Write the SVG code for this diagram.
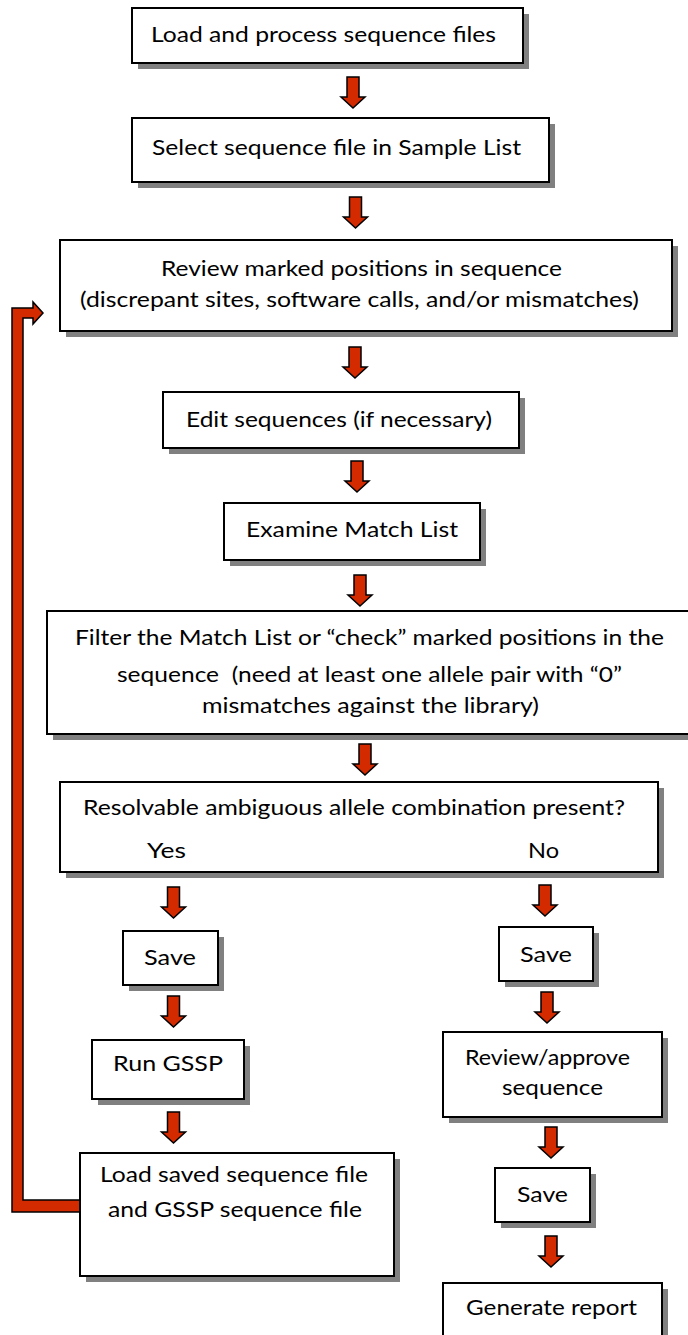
<svg xmlns="http://www.w3.org/2000/svg" xmlns:xlink="http://www.w3.org/1999/xlink" width="688" height="1335" viewBox="0 0 688 1335">
<style>
.sh{fill:#808080}
.bx{fill:#ffffff;stroke:#000000;stroke-width:2}
.t{font-family:Lato,"Open Sans","DejaVu Sans",sans-serif;font-size:22px;fill:#000000;text-anchor:middle}
.ar{fill:#d42a00;stroke:#000000;stroke-width:1.5;stroke-linejoin:miter}
</style>
<defs>
<path id="arr" class="ar" d="M-6,0 H6 V20 H12 L0,31 L-12,20 H-6 Z"/>
</defs>
<rect width="688" height="1335" fill="#ffffff"/>

<g id="connectors">
<use xlink:href="#arr" href="#arr" x="353" y="77"/>
<use xlink:href="#arr" href="#arr" x="355.5" y="197"/>
<use xlink:href="#arr" href="#arr" x="355" y="347"/>
<use xlink:href="#arr" href="#arr" x="357" y="461"/>
<use xlink:href="#arr" href="#arr" x="360" y="575"/>
<use xlink:href="#arr" href="#arr" x="365" y="744"/>
<use xlink:href="#arr" href="#arr" x="173.5" y="887"/>
<use xlink:href="#arr" href="#arr" x="173.5" y="996"/>
<use xlink:href="#arr" href="#arr" x="173.5" y="1112"/>
<use xlink:href="#arr" href="#arr" x="545" y="885"/>
<use xlink:href="#arr" href="#arr" x="547" y="992"/>
<use xlink:href="#arr" href="#arr" x="551" y="1127"/>
<use xlink:href="#arr" href="#arr" x="551" y="1236"/>
<path id="loop" class="ar" d="M12,308 H33 V302 L43,313 L33,324 V318 H23 V1200 H80 V1212 H12 Z"/>
</g>

<g id="n1">
<rect class="sh" x="138" y="14" width="391" height="55"/>
<rect class="bx" x="132" y="8" width="391" height="55"/>
<text class="t" x="323.5" y="42" textLength="345" lengthAdjust="spacingAndGlyphs">Load and process sequence files</text>
</g>

<g id="n2">
<rect class="sh" x="138" y="124" width="417" height="64"/>
<rect class="bx" x="132" y="118" width="417" height="64"/>
<text class="t" x="336.5" y="155" textLength="369" lengthAdjust="spacingAndGlyphs">Select sequence file in Sample List</text>
</g>

<g id="n3">
<rect class="sh" x="66" y="246" width="612" height="91"/>
<rect class="bx" x="60" y="240" width="612" height="91"/>
<text class="t" x="361.5" y="276" textLength="401" lengthAdjust="spacingAndGlyphs">Review marked positions in sequence</text>
<text class="t" x="359.5" y="307" textLength="559" lengthAdjust="spacingAndGlyphs">(discrepant sites, software calls, and/or mismatches)</text>
</g>

<g id="n4">
<rect class="sh" x="169" y="398" width="356" height="56"/>
<rect class="bx" x="163" y="392" width="356" height="56"/>
<text class="t" x="339" y="427" textLength="306" lengthAdjust="spacingAndGlyphs">Edit sequences (if necessary)</text>
</g>

<g id="n5">
<rect class="sh" x="230" y="509" width="256" height="57"/>
<rect class="bx" x="224" y="503" width="256" height="57"/>
<text class="t" x="352" y="537" textLength="212" lengthAdjust="spacingAndGlyphs">Examine Match List</text>
</g>

<g id="n6">
<rect class="sh" x="53" y="617" width="645" height="123"/>
<rect class="bx" x="47" y="611" width="645" height="123"/>
<text class="t" x="369.5" y="645" textLength="589" lengthAdjust="spacingAndGlyphs">Filter the Match List or “check” marked positions in the</text>
<text class="t" x="369.5" y="682" textLength="505" lengthAdjust="spacingAndGlyphs" xml:space="preserve" style="white-space:pre">sequence  (need at least one allele pair with “0”</text>
<text class="t" x="370.5" y="713" textLength="337" lengthAdjust="spacingAndGlyphs">mismatches against the library)</text>
</g>

<g id="n7">
<rect class="sh" x="66" y="788" width="598" height="90"/>
<rect class="bx" x="60" y="782" width="598" height="90"/>
<text class="t" x="354" y="815" textLength="542" lengthAdjust="spacingAndGlyphs">Resolvable ambiguous allele combination present?</text>
<text class="t" x="166.5" y="858" textLength="39" lengthAdjust="spacingAndGlyphs">Yes</text>
<text class="t" x="543.5" y="858" textLength="31" lengthAdjust="spacingAndGlyphs">No</text>
</g>

<g id="n8">
<rect class="sh" x="129" y="937" width="95" height="54"/>
<rect class="bx" x="123" y="931" width="95" height="54"/>
<text class="t" x="170" y="965" textLength="52" lengthAdjust="spacingAndGlyphs">Save</text>
</g>

<g id="n9">
<rect class="sh" x="98" y="1046" width="152" height="59"/>
<rect class="bx" x="92" y="1040" width="152" height="59"/>
<text class="t" x="168" y="1071" textLength="110" lengthAdjust="spacingAndGlyphs">Run GSSP</text>
</g>

<g id="n10">
<rect class="sh" x="86" y="1159" width="314" height="123"/>
<rect class="bx" x="80" y="1153" width="314" height="123"/>
<text class="t" x="234" y="1182" textLength="268" lengthAdjust="spacingAndGlyphs">Load saved sequence file</text>
<text class="t" x="235" y="1217" textLength="254" lengthAdjust="spacingAndGlyphs">and GSSP sequence file</text>
</g>

<g id="n11">
<rect class="sh" x="505" y="933" width="94" height="54"/>
<rect class="bx" x="499" y="927" width="94" height="54"/>
<text class="t" x="546" y="962" textLength="52" lengthAdjust="spacingAndGlyphs">Save</text>
</g>

<g id="n12">
<rect class="sh" x="449" y="1038" width="219" height="85"/>
<rect class="bx" x="443" y="1032" width="219" height="85"/>
<text class="t" x="547.5" y="1065" textLength="165" lengthAdjust="spacingAndGlyphs">Review/approve</text>
<text class="t" x="552.5" y="1095" textLength="101" lengthAdjust="spacingAndGlyphs">sequence</text>
</g>

<g id="n13">
<rect class="sh" x="501" y="1174" width="95" height="54"/>
<rect class="bx" x="495" y="1168" width="95" height="54"/>
<text class="t" x="542.5" y="1202" textLength="51" lengthAdjust="spacingAndGlyphs">Save</text>
</g>

<g id="n14">
<rect class="sh" x="449" y="1289" width="219" height="60"/>
<rect class="bx" x="443" y="1283" width="219" height="60"/>
<text class="t" x="551.5" y="1315" textLength="171" lengthAdjust="spacingAndGlyphs">Generate report</text>
</g>
</svg>
